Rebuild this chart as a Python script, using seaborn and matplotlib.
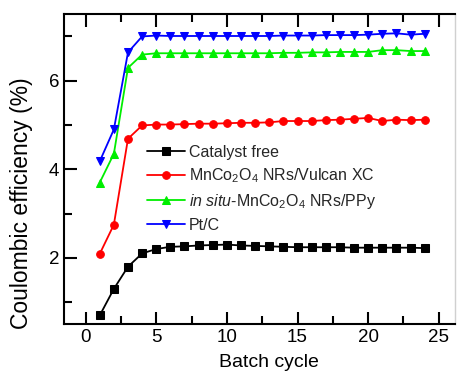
import numpy as np
import pandas as pd
import matplotlib
matplotlib.use("Agg")
import matplotlib.pyplot as plt
import seaborn as sns
from matplotlib.ticker import MultipleLocator

cycles = list(range(1, 25))
catalyst_free = [0.70, 1.30, 1.80, 2.10, 2.20, 2.25, 2.26, 2.28, 2.29, 2.30, 2.28, 2.27,
                 2.26, 2.25, 2.24, 2.24, 2.24, 2.24, 2.23, 2.23, 2.23, 2.23, 2.23, 2.22]
vulcan = [2.09, 2.75, 4.69, 4.99, 5.01, 5.01, 5.02, 5.03, 5.03, 5.04, 5.05, 5.05,
          5.06, 5.09, 5.09, 5.09, 5.11, 5.12, 5.14, 5.16, 5.09, 5.12, 5.11, 5.12]
ppy = [3.70, 4.35, 6.29, 6.59, 6.62, 6.62, 6.62, 6.62, 6.62, 6.62, 6.62, 6.62,
       6.62, 6.63, 6.63, 6.64, 6.64, 6.65, 6.65, 6.65, 6.69, 6.69, 6.67, 6.67]
ptc = [4.18, 4.90, 6.64, 7.00, 7.02, 7.01, 7.01, 7.01, 7.01, 7.01, 7.01, 7.01,
       7.01, 7.02, 7.02, 7.02, 7.03, 7.03, 7.03, 7.04, 7.06, 7.07, 7.04, 7.06]

labels = ["Catalyst free",
          r"MnCo$_2$O$_4$ NRs/Vulcan XC",
          r"$\mathit{in\ situ}$-MnCo$_2$O$_4$ NRs/PPy",
          "Pt/C"]
series = [catalyst_free, vulcan, ppy, ptc]
colors = ["#000000", "#ff0000", "#00ee00", "#0000ff"]
markers = ["s", "o", "^", "v"]

sns.set_style("ticks")
plt.rcParams["font.family"] = ["Liberation Sans", "DejaVu Sans"]
plt.rcParams["mathtext.fontset"] = "custom"
plt.rcParams["mathtext.rm"] = "Liberation Sans"
plt.rcParams["mathtext.it"] = "Liberation Sans:italic"

fig = plt.figure(figsize=(4.59, 3.76), dpi=100)
ax = fig.add_axes([0.1394, 0.1375, 0.852, 0.8245])

for vals, lab, c, m in zip(series, labels, colors, markers):
    df = pd.DataFrame({"x": cycles, "y": vals})
    sns.lineplot(data=df, x="x", y="y", ax=ax, color=c, marker=m, markersize=5.5,
                 markeredgecolor=c, linewidth=1.3, label=lab)

ax.set_xlim(-1.53, 26.15)
ax.set_ylim(0.5, 7.5)
ax.xaxis.set_major_locator(MultipleLocator(5))
ax.xaxis.set_minor_locator(MultipleLocator(2.5))
ax.yaxis.set_major_locator(MultipleLocator(2))
ax.yaxis.set_minor_locator(MultipleLocator(1))
ax.tick_params(which="both", direction="in", top=True, right=False, width=1.5,
               labelsize=13.5, color="black", labelcolor="black")
ax.tick_params(which="major", length=9)
ax.tick_params(which="minor", length=5.5)
for s in ["left", "bottom", "top"]:
    ax.spines[s].set_linewidth(1.5)
    ax.spines[s].set_color("black")
ax.spines["right"].set_color("#d0d0d0")
ax.spines["right"].set_linewidth(1.0)

ax.set_xlabel("Batch cycle", fontsize=14, color="black")
ax.set_ylabel("Coulombic efficiency (%)", fontsize=16.5, color="black")
ax.xaxis.set_label_coords(0.524, -0.095)
ax.yaxis.set_label_coords(-0.08, 0.39)

ax.legend(loc="upper left", bbox_to_anchor=(0.32, 0.615), bbox_transform=fig.transFigure,
          frameon=False, fontsize=11.5, handlelength=2.4, handletextpad=0.25,
          labelspacing=0.42, borderaxespad=0, borderpad=0)

fig.savefig("out.png", dpi=100)
